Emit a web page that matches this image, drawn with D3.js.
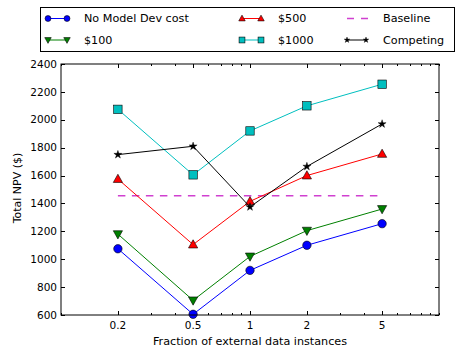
<!DOCTYPE html>
<html>
<head>
  <style>
    body { margin: 0; background: #fff; }
    svg { font-family: "DejaVu Sans", sans-serif; }
  </style>
</head>
<body>
  <svg width="456" height="348"></svg>
  <script src="https://d3js.org/d3.v7.min.js"></script>
  <script>
    // data
    const fractions = [0.2, 0.5, 1, 2, 5];
    const noModelDev = [1075, 605, 920, 1100, 1255];
    const cost100 = [1180, 705, 1020, 1205, 1360];
    const cost500 = [1575, 1105, 1415, 1600, 1755];
    const cost1000 = [2075, 1605, 1920, 2100, 2255];
    const competing = [1750, 1810, 1375, 1665, 1970];
    const baseline = 1455;
    const yTicks = [600, 800, 1000, 1200, 1400, 1600, 1800, 2000, 2200, 2400];
    const xTickLabels = ["0.2", "0.5", "1", "2", "5"];

    const series = [
      { name: "No Model Dev cost", values: noModelDev, color: "#0000ff", symbol: "circle" },
      { name: "$100", values: cost100, color: "#008000", symbol: "down" },
      { name: "$500", values: cost500, color: "#ff0000", symbol: "up" },
      { name: "$1000", values: cost1000, color: "#00bfbf", symbol: "square" },
      { name: "Competing", values: competing, color: "#000000", symbol: "star" }
    ];
    const baseColor = "#d040d0";

    const svg = d3.select("svg");
    const pL = 61, pR = 439, pT = 64, pB = 315;

    const x = d3.scaleLog().domain([0.1, 10]).range([pL, pR]);
    const y = d3.scaleLinear().domain([600, 2400]).range([pB, pT]);

    // ticks (inward, all four sides)
    const ticks = svg.append("g").attr("stroke", "#000").attr("stroke-width", 1);
    const minor = [];
    for (let e = -1; e <= 0; e++) {
      for (let m = 1; m <= 9; m++) minor.push(m * Math.pow(10, e));
    }
    minor.push(10);
    minor.forEach(v => {
      const major = xTickLabels.map(Number).some(t => Math.abs(t - v) < 1e-9);
      const len = major ? 4 : 2;
      const px = Math.round(x(v)) + 0.5;
      ticks.append("line").attr("x1", px).attr("x2", px).attr("y1", pB).attr("y2", pB - len);
      ticks.append("line").attr("x1", px).attr("x2", px).attr("y1", pT).attr("y2", pT + len);
    });
    yTicks.forEach(v => {
      const py = Math.round(y(v)) + 0.5;
      ticks.append("line").attr("x1", pL).attr("x2", pL + 4).attr("y1", py).attr("y2", py);
      ticks.append("line").attr("x1", pR).attr("x2", pR - 4).attr("y1", py).attr("y2", py);
    });

    // tick labels
    svg.append("g").selectAll("text").data(xTickLabels).join("text")
      .attr("x", d => x(+d)).attr("y", 329)
      .attr("text-anchor", "middle").attr("font-size", 10.5)
      .text(d => d);
    svg.append("g").selectAll("text").data(yTicks).join("text")
      .attr("x", 57).attr("y", d => y(d)).attr("dy", "0.35em")
      .attr("text-anchor", "end").attr("font-size", 10.5)
      .text(d => d);

    // axis titles
    svg.append("text").attr("x", 250).attr("y", 345)
      .attr("text-anchor", "middle").attr("font-size", 11.2)
      .text("Fraction of external data instances");
    svg.append("text").attr("transform", `translate(21,188) rotate(-90)`)
      .attr("text-anchor", "middle").attr("font-size", 11)
      .text("Total NPV ($)");

    // markers
    function marker(g, kind, cx, cy, color, k) {
      if (kind === "circle") {
        g.append("circle").attr("cx", cx).attr("cy", cy).attr("r", 4.2 * k)
          .attr("fill", color).attr("stroke", "#000").attr("stroke-width", 0.6);
      } else if (kind === "square") {
        const h = 4.2 * k;
        g.append("rect").attr("x", cx - h).attr("y", cy - h).attr("width", 2 * h).attr("height", 2 * h)
          .attr("fill", color).attr("stroke", "#000").attr("stroke-width", 0.6);
      } else if (kind === "up" || kind === "down") {
        const s = kind === "up" ? -1 : 1;
        const pts = [[cx, cy + s * 4.8 * k], [cx - 4.6 * k, cy - s * 3.4 * k], [cx + 4.6 * k, cy - s * 3.4 * k]];
        g.append("path").attr("d", "M" + pts.join("L") + "Z")
          .attr("fill", color).attr("stroke", "#000").attr("stroke-width", 0.6);
      } else {
        g.append("path").attr("d", d3.symbol(d3.symbolStar, 20 * k * k)())
          .attr("transform", `translate(${cx},${cy})`)
          .attr("fill", color).attr("stroke", "#000").attr("stroke-width", 0.4);
      }
    }

    const line = d3.line().x(d => x(d[0])).y(d => y(d[1]));

    // baseline
    svg.append("path")
      .attr("d", line([[fractions[0], baseline], [fractions[fractions.length - 1], baseline]]))
      .attr("stroke", baseColor).attr("stroke-width", 1.4).attr("stroke-dasharray", "7.5,6.5")
      .attr("fill", "none");

    series.forEach(s => {
      const pts = fractions.map((f, i) => [f, s.values[i]]);
      svg.append("path").attr("d", line(pts))
        .attr("stroke", s.color).attr("stroke-width", 1).attr("fill", "none");
      const g = svg.append("g");
      pts.forEach(p => marker(g, s.symbol, x(p[0]), y(p[1]), s.color, 1));
    });

    // frame
    svg.append("rect").attr("x", pL).attr("y", pT)
      .attr("width", pR - pL).attr("height", pB - pT)
      .attr("fill", "none").attr("stroke", "#000").attr("stroke-width", 1);

    // legend
    const leg = svg.append("g");
    leg.append("rect").attr("x", 40.5).attr("y", 7.5).attr("width", 414).attr("height", 44)
      .attr("fill", "#fff").attr("stroke", "#000").attr("stroke-width", 1);
    const legendItems = [
      { s: series[0], col: 0, row: 0 },
      { s: series[1], col: 0, row: 1 },
      { s: series[2], col: 1, row: 0 },
      { s: series[3], col: 1, row: 1 },
      { s: { name: "Baseline", color: baseColor, symbol: null }, col: 2, row: 0 },
      { s: series[4], col: 2, row: 1 }
    ];
    const colX = [48, 242, 347];
    const rowY = [18.5, 40];
    legendItems.forEach(it => {
      const x0 = colX[it.col], x1 = x0 + 19, yy = rowY[it.row];
      if (it.s.symbol) {
        leg.append("line").attr("x1", x0).attr("x2", x1).attr("y1", yy).attr("y2", yy)
          .attr("stroke", it.s.color).attr("stroke-width", 1);
        marker(leg, it.s.symbol, x0, yy, it.s.color, 0.7);
        marker(leg, it.s.symbol, x1, yy, it.s.color, 0.7);
      } else {
        leg.append("line").attr("x1", x0).attr("x2", x0 + 21).attr("y1", yy).attr("y2", yy)
          .attr("stroke", it.s.color).attr("stroke-width", 1.4).attr("stroke-dasharray", "7,7");
      }
      leg.append("text").attr("x", colX[it.col] + 36).attr("y", yy).attr("dy", "0.35em")
        .attr("font-size", 11.2).text(it.s.name);
    });
  </script>
</body>
</html>
